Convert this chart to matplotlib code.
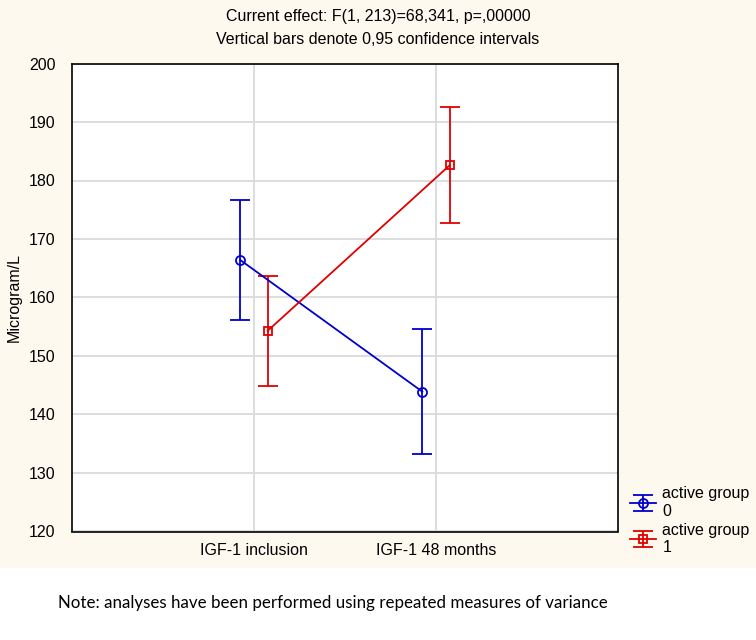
import numpy as np
import matplotlib
matplotlib.use('Agg')
from matplotlib import pyplot as plt
from matplotlib.patches import Rectangle

# data
categories = ['IGF-1 inclusion', 'IGF-1 48 months']
group0_mean = [166.4, 143.9]
group0_lo = [156.2, 133.2]
group0_hi = [176.6, 154.7]
group1_mean = [154.3, 182.6]
group1_lo = [144.9, 172.8]
group1_hi = [163.6, 192.6]
yticks = [120, 130, 140, 150, 160, 170, 180, 190, 200]

plt.rcParams['font.family'] = ['Liberation Sans Narrow', 'Liberation Sans', 'DejaVu Sans']

cream = '#FDF9EE'
blue = '#0000CC'
red = '#E00000'

fig = plt.figure(figsize=(7.56, 6.4), dpi=100, facecolor=cream)
# white strip at the bottom where the note sits
fig.patches.append(Rectangle((0, 0), 1, 72/640., transform=fig.transFigure,
                             facecolor='white', edgecolor='none', zorder=0))

ax = fig.add_axes([72/756., 108.5/640., 546/756., 468/640.])
ax.set_facecolor('white')

x = np.arange(len(categories))
off = 0.075

def draw(xs, m, lo, hi, col, mk, lab):
    m = np.array(m); lo = np.array(lo); hi = np.array(hi)
    return ax.errorbar(xs, m, yerr=[m - lo, hi - m], color=col, lw=1.3,
                       marker=mk, ms=6.5 if mk == 'o' else 6, mfc='none', mec=col, mew=1.3,
                       capsize=7, capthick=1.3, elinewidth=1.3, label=lab, zorder=3)

h0 = draw(x - off, group0_mean, group0_lo, group0_hi, blue, 'o', 'active group\n0')
h1 = draw(x + off, group1_mean, group1_lo, group1_hi, red, 's', 'active group\n1')

ax.set_xlim(-1, 2)
ax.set_ylim(120, 200)
ax.set_xticks(x)
ax.set_xticklabels(categories, fontsize=11.5)
ax.set_yticks(yticks)
ax.set_yticklabels([str(v) for v in yticks], fontsize=11.5)
ax.tick_params(axis='x', length=0, pad=8)
ax.tick_params(axis='y', length=0, pad=12)
ax.grid(True, color='#DADADA', lw=1.3, zorder=0)
ax.set_axisbelow(True)
for s in ax.spines.values():
    s.set_color('black')
    s.set_linewidth(1.2)

ax.set_ylabel('Microgram/L', fontsize=11.5, labelpad=5)

fig.text(0.5, 1 - 16/640., 'Current effect: F(1, 213)=68,341, p=,00000',
         ha='center', va='center', fontsize=11.5)
fig.text(0.5, 1 - 39/640., 'Vertical bars denote 0,95 confidence intervals',
         ha='center', va='center', fontsize=11.5)

leg = ax.legend(handles=[h0, h1], loc='upper left', bbox_to_anchor=(624/756., 1 - 480/640.),
                bbox_transform=fig.transFigure, frameon=False, fontsize=11.5,
                handlelength=1.6, handletextpad=0.4, labelspacing=0.25, borderaxespad=0)

fig.text(58/756., 1 - 603/640., 'Note: analyses have been performed using repeated measures of variance',
         ha='left', va='center', fontsize=12.2, family=['Lato', 'DejaVu Sans'])

plt.savefig('out.png', dpi=100, facecolor=fig.get_facecolor())
